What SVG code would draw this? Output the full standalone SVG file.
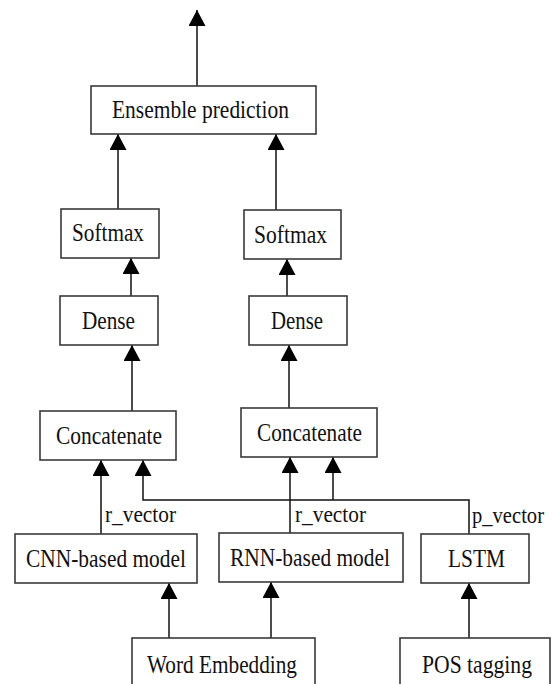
<svg xmlns="http://www.w3.org/2000/svg" width="552" height="684" viewBox="0 0 552 684">
<style>
.box{fill:#fff;stroke:#3a3a3a;stroke-width:1.6}
.t{font-family:"Liberation Serif","Times New Roman",serif;font-size:25px;fill:#111}
.lbl{font-family:"Liberation Serif","Times New Roman",serif;font-size:23px;fill:#111}
.c{fill:none;stroke:#111;stroke-width:1.5}
</style>
<defs>
<marker id="ah" viewBox="0 0 16 17" refX="16" refY="8.5" markerWidth="16" markerHeight="17" markerUnits="userSpaceOnUse" orient="auto">
<path d="M0,0 L16,8.5 L0,17 z" fill="#000"/>
</marker>
</defs>
<rect width="552" height="684" fill="#fff"/>
<g id="connectors">
<path class="c" d="M197,86 V10" marker-end="url(#ah)"/>
<path class="c" d="M118,209 V134" marker-end="url(#ah)"/>
<path class="c" d="M276,210 V134" marker-end="url(#ah)"/>
<path class="c" d="M131,296 V258" marker-end="url(#ah)"/>
<path class="c" d="M287,296 V259" marker-end="url(#ah)"/>
<path class="c" d="M132,411 V345" marker-end="url(#ah)"/>
<path class="c" d="M289,408 V345" marker-end="url(#ah)"/>
<path class="c" d="M101,534 V460" marker-end="url(#ah)"/>
<path class="c" d="M469,534 V500 H143 V460" marker-end="url(#ah)"/>
<path class="c" d="M333,500 V457" marker-end="url(#ah)"/>
<path class="c" d="M290,533 V457" marker-end="url(#ah)"/>
<path class="c" d="M169,638 V583" marker-end="url(#ah)"/>
<path class="c" d="M271,638 V582" marker-end="url(#ah)"/>
<path class="c" d="M469,638 V583" marker-end="url(#ah)"/>
<text class="lbl" x="105" y="522" textLength="71" lengthAdjust="spacingAndGlyphs">r_vector</text>
<text class="lbl" x="295" y="522" textLength="71" lengthAdjust="spacingAndGlyphs">r_vector</text>
<text class="lbl" x="472" y="523" textLength="72" lengthAdjust="spacingAndGlyphs">p_vector</text>
</g>
<g id="ensemble">
<rect class="box" x="91" y="86" width="225" height="48"/>
<text class="t" x="112" y="118" textLength="177" lengthAdjust="spacingAndGlyphs">Ensemble prediction</text>
</g>
<g id="softmax1">
<rect class="box" x="61" y="209" width="98" height="49"/>
<text class="t" x="72" y="241" textLength="72" lengthAdjust="spacingAndGlyphs">Softmax</text>
</g>
<g id="softmax2">
<rect class="box" x="244" y="210" width="97" height="49"/>
<text class="t" x="254" y="243" textLength="73" lengthAdjust="spacingAndGlyphs">Softmax</text>
</g>
<g id="dense1">
<rect class="box" x="60" y="296" width="98" height="49"/>
<text class="t" x="82" y="329" textLength="53" lengthAdjust="spacingAndGlyphs">Dense</text>
</g>
<g id="dense2">
<rect class="box" x="249" y="296" width="98" height="49"/>
<text class="t" x="271" y="329" textLength="52" lengthAdjust="spacingAndGlyphs">Dense</text>
</g>
<g id="concat1">
<rect class="box" x="40" y="411" width="136" height="49"/>
<text class="t" x="56" y="444" textLength="106" lengthAdjust="spacingAndGlyphs">Concatenate</text>
</g>
<g id="concat2">
<rect class="box" x="241" y="408" width="136" height="49"/>
<text class="t" x="257" y="441" textLength="105" lengthAdjust="spacingAndGlyphs">Concatenate</text>
</g>
<g id="cnn">
<rect class="box" x="15" y="534" width="182" height="49"/>
<text class="t" x="26" y="567" textLength="160" lengthAdjust="spacingAndGlyphs">CNN-based model</text>
</g>
<g id="rnn">
<rect class="box" x="219" y="533" width="184" height="49"/>
<text class="t" x="230" y="566" textLength="160" lengthAdjust="spacingAndGlyphs">RNN-based model</text>
</g>
<g id="lstm">
<rect class="box" x="421" y="534" width="108" height="49"/>
<text class="t" x="448" y="567" textLength="57" lengthAdjust="spacingAndGlyphs">LSTM</text>
</g>
<g id="wordemb">
<rect class="box" x="132" y="638" width="183" height="60"/>
<text class="t" x="147" y="673" textLength="150" lengthAdjust="spacingAndGlyphs">Word Embedding</text>
</g>
<g id="pos">
<rect class="box" x="400" y="638" width="150" height="60"/>
<text class="t" x="422" y="673" textLength="110" lengthAdjust="spacingAndGlyphs">POS tagging</text>
</g>
</svg>
